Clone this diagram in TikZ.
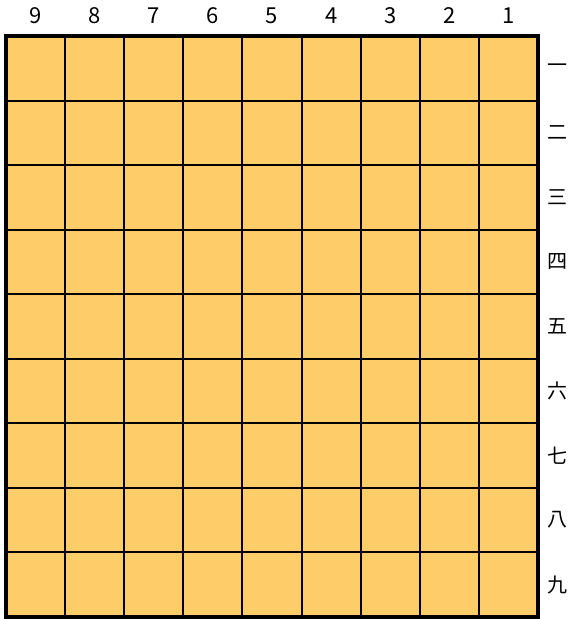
\documentclass[tikz,border=0pt]{standalone}
\usepackage{fontspec}
\setmainfont{Noto Sans CJK JP}
\definecolor{boardwood}{HTML}{FECC69}
\tikzset{
  gridline/.style={line width=2pt, black},
  frameline/.style={line width=4pt, black},
  filelabel/.style={font=\fontsize{22}{22}\selectfont, inner sep=0pt},
  ranklabel/.style={font=\fontsize{20}{20}\selectfont, inner sep=0pt}
}
\begin{document}
\begin{tikzpicture}[x=1pt, y=-1pt]
		\useasboundingbox (0,0) rectangle (574,619);
		
		% Board
		\coordinate (nw) at (6,36);
		\coordinate (se) at (538,617);
		\fill[boardwood] (nw) rectangle (se);
		
		% Grid lines
		\foreach \i in {1,...,8} {
			\draw[gridline] (6+\i*59.11,36) -- (6+\i*59.11,617); % files
			\draw[gridline] (6,36+\i*64.56) -- (538,36+\i*64.56); % ranks
		}
		\draw[frameline] (nw) rectangle (se);
		
		% File numbers (top)
		\foreach \i in {1,...,9}
			\node[filelabel] (file-\i) at (538-\i*59.11+29.56,16) {\i};
		
		% Rank numbers (right)
		\foreach \k [count=\j] in {一,二,三,四,五,六,七,八,九}
			\node[ranklabel] (rank-\j) at (557,36+\j*64.56-32.28) {\k};
		
	\end{tikzpicture}
\end{document}
